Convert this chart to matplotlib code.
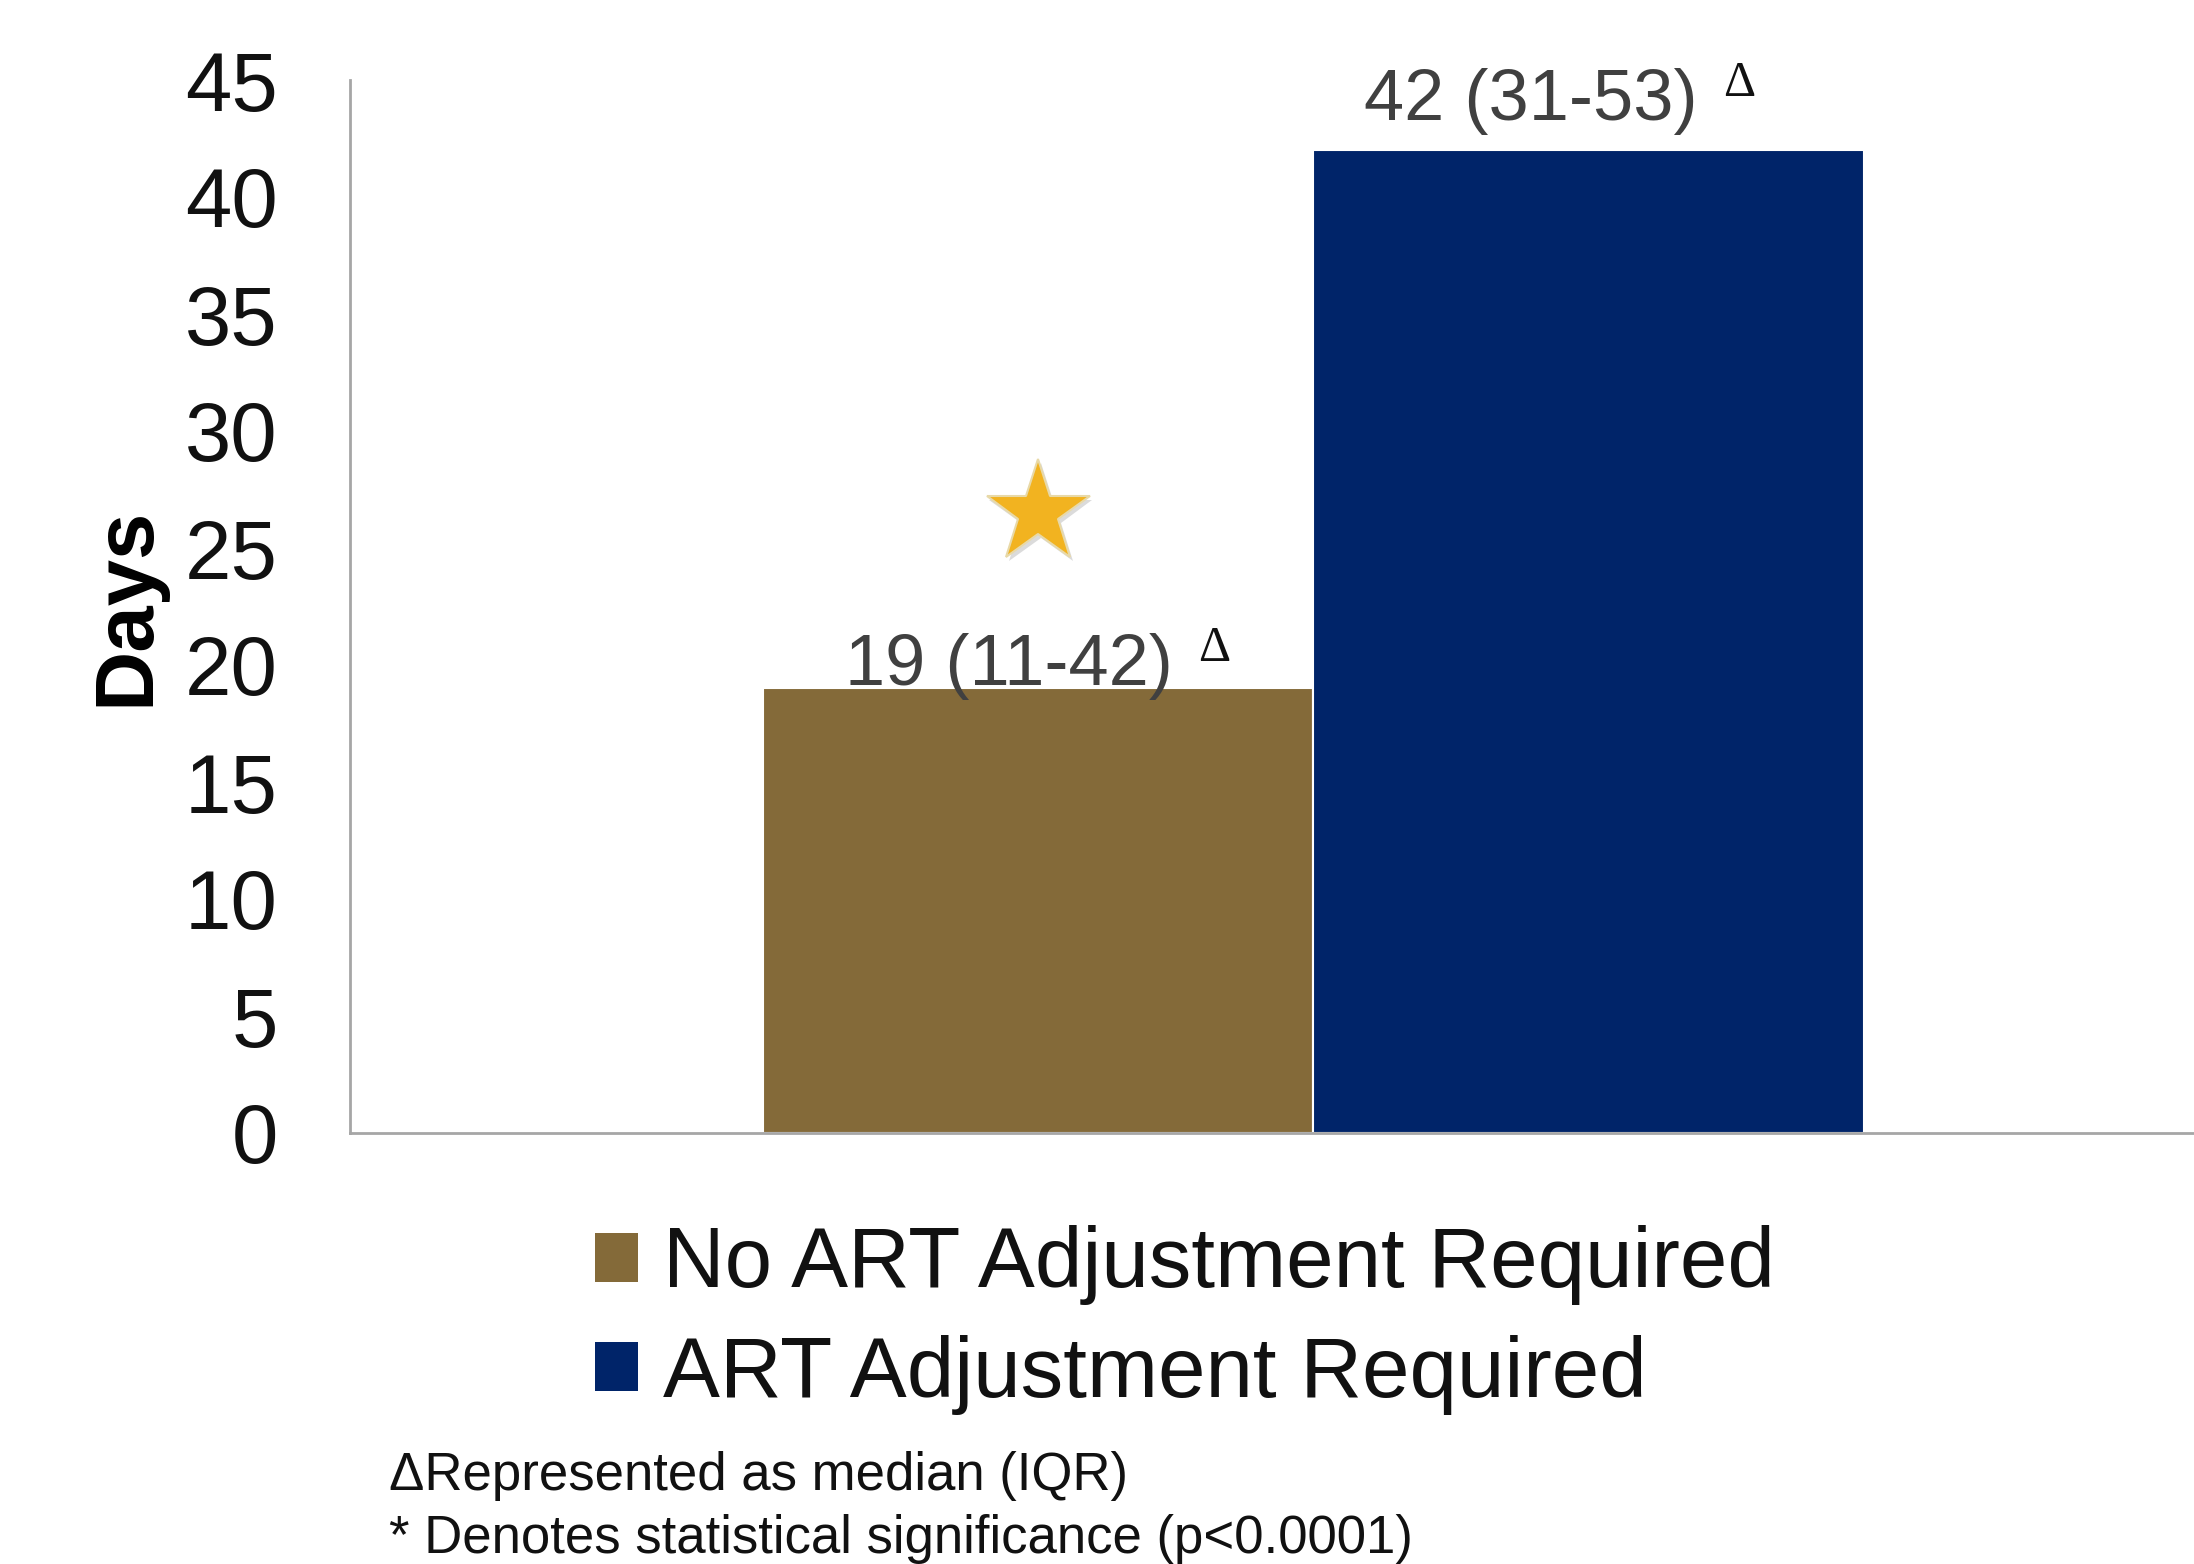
import matplotlib
matplotlib.use("Agg")
import matplotlib.pyplot as plt
import matplotlib.patheffects as pe
from matplotlib.patches import Patch

plt.rcParams['font.family'] = ['Liberation Sans', 'DejaVu Sans']

# data
groups = ["No ART Adjustment Required", "ART Adjustment Required"]
medians = [19, 42]
iqr_text = ["19 (11-42)", "42 (31-53)"]
colors = ["#846A39", "#002469"]
yticks = [0, 5, 10, 15, 20, 25, 30, 35, 40, 45]
star_y = 26.5  # significance star placed above first bar
footnotes = ["\u0394Represented as median (IQR)",
             "* Denotes statistical significance (p<0.0001)"]

fig = plt.figure(figsize=(21.94, 15.64), dpi=100)
ax = fig.add_axes([350 / 2194, 1 - 1133 / 1564, 1 - 350 / 2194, (1133 - 80) / 1564])

xpos = [0, 1]
ax.bar(xpos, medians, width=1.0, color=colors, edgecolor="white", linewidth=1.5)

ax.set_xlim(-1.25, 2.10)
ax.set_ylim(0, 45)
ax.set_yticks(yticks)
ax.set_xticks([])
ax.tick_params(axis="y", length=0, pad=52, labelsize=60, labelcolor="#111111")
for s in ["top", "right"]:
    ax.spines[s].set_visible(False)
for s in ["left", "bottom"]:
    ax.spines[s].set_color("#A6A6A6")
    ax.spines[s].set_linewidth(2)

ax.set_ylabel("Days", fontsize=60, fontweight="bold", labelpad=0)
ax.yaxis.set_label_coords(-0.100, 0.5)

# bar value labels: main text + superscript delta
lab_dx = [-0.052, -0.105]
lab_dy = [0.15, 1.3]
delta_dx = [0.32, 0.274]
for i in range(2):
    ax.text(xpos[i] + lab_dx[i], medians[i] + lab_dy[i], iqr_text[i], ha="center", va="baseline",
            fontsize=52, color="#404040")
    ax.text(xpos[i] + delta_dx[i], medians[i] + lab_dy[i] + 1.0, "\u0394", ha="center", va="baseline",
            fontsize=36, color="#111111", family=["Liberation Serif", "DejaVu Serif"])

# significance star
ax.plot([xpos[0]], [star_y], marker="*", markersize=78, color="#F2B320",
        markeredgecolor="#E8D9A8", markeredgewidth=1.5, clip_on=False,
        path_effects=[pe.SimplePatchShadow(offset=(2, -3), shadow_rgbFace="#999999", alpha=0.35), pe.Normal()])

handles = [Patch(facecolor=colors[0], edgecolor="none"), Patch(facecolor=colors[1], edgecolor="none")]
fig.legend(handles, groups, loc="center left", bbox_to_anchor=(595 / 2194, 1 - 1320 / 1564),
           frameon=False, fontsize=61.5, handlelength=0.5, handleheight=0.5, handletextpad=0.3,
           labelspacing=0.34, borderpad=0, borderaxespad=0, labelcolor="#111111")

fig.text(389 / 2194, 1 - 1490 / 1564, footnotes[0], fontsize=38, color="#111111", va="baseline")
fig.text(389 / 2194, 1 - 1553 / 1564, footnotes[1], fontsize=38, color="#111111", va="baseline")

fig.savefig("out.png", dpi=100)
